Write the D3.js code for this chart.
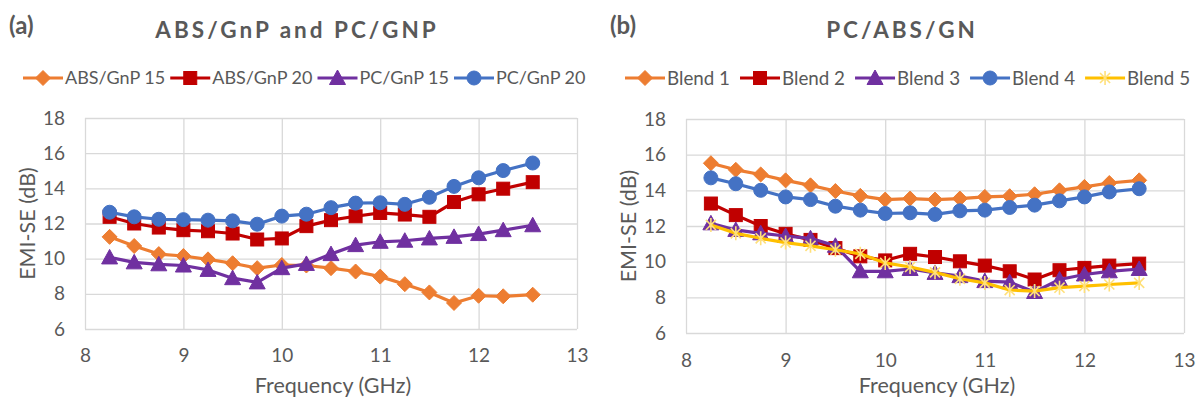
<!DOCTYPE html>
<html>
<head>
<meta charset="utf-8">
<script src="https://cdn.jsdelivr.net/npm/d3@7"></script>
<style>
  html, body { margin: 0; padding: 0; background: #fff; }
  svg { display: block; }
  text { font-family: Lato, "Open Sans", sans-serif; fill: #595959; }
</style>
</head>
<body>
<svg id="chart" width="1198" height="405"></svg>
<script>
// ---------- data ----------
const freqs = [8.25, 8.5, 8.75, 9, 9.25, 9.5, 9.75, 10, 10.25, 10.5, 10.75, 11, 11.25, 11.5, 11.75, 12, 12.25, 12.55];
const xTicks = [8, 9, 10, 11, 12, 13];
const yTicks = [6, 8, 10, 12, 14, 16, 18];

const absGnP15 = [11.24, 10.72, 10.26, 10.15, 9.96, 9.74, 9.46, 9.64, 9.61, 9.46, 9.27, 8.98, 8.55, 8.08, 7.48, 7.89, 7.86, 7.95];
const absGnP20 = [12.38, 12.0, 11.77, 11.62, 11.56, 11.43, 11.09, 11.15, 11.85, 12.19, 12.41, 12.6, 12.51, 12.38, 13.22, 13.66, 13.98, 14.35];
const pcGnP15  = [10.07, 9.79, 9.68, 9.61, 9.36, 8.89, 8.65, 9.46, 9.7, 10.26, 10.77, 10.96, 11.02, 11.15, 11.24, 11.4, 11.62, 11.9];
const pcGnP20  = [12.64, 12.38, 12.24, 12.22, 12.19, 12.15, 11.96, 12.42, 12.53, 12.9, 13.16, 13.18, 13.09, 13.49, 14.11, 14.6, 15.01, 15.44];

const blend1 = [15.52, 15.15, 14.89, 14.56, 14.28, 13.96, 13.69, 13.48, 13.54, 13.48, 13.54, 13.63, 13.67, 13.78, 14.0, 14.19, 14.41, 14.56];
const blend2 = [13.26, 12.61, 12.0, 11.56, 11.22, 10.76, 10.3, 10.07, 10.44, 10.26, 10.02, 9.78, 9.46, 9.0, 9.52, 9.65, 9.78, 9.89];
const blend3 = [12.15, 11.78, 11.59, 11.44, 11.31, 10.89, 9.46, 9.46, 9.59, 9.37, 9.19, 8.91, 8.85, 8.3, 9.0, 9.28, 9.46, 9.59];
const blend4 = [14.7, 14.37, 14.0, 13.63, 13.48, 13.11, 12.89, 12.7, 12.74, 12.65, 12.85, 12.89, 13.04, 13.17, 13.41, 13.63, 13.91, 14.09];
const blend5 = [12.06, 11.59, 11.31, 11.07, 10.89, 10.67, 10.44, 9.93, 9.7, 9.4, 9.04, 8.81, 8.41, 8.35, 8.54, 8.63, 8.72, 8.81];

const namesA = ["ABS/GnP 15", "ABS/GnP 20", "PC/GnP 15", "PC/GnP 20"];
const namesB = ["Blend 1", "Blend 2", "Blend 3", "Blend 4", "Blend 5"];

// ---------- styles ----------
const C = { orange: "#ED7D31", red: "#C00000", purple: "#7030A0", blue: "#4472C4", yellow: "#FFC000" };

const panels = [
  {
    tag: "(a)", title: "ABS/GnP and PC/GNP",
    tagX: 9, titleX: 297,
    plot: { x0: 85, x1: 577, y0: 118, y1: 329 },
    legendX: 23, legendFont: 18, legendGap: 5, tickDy: 16,
    yTitleX: 27,
    series: [
      { name: namesA[0], values: absGnP15, color: C.orange, marker: "diamond" },
      { name: namesA[1], values: absGnP20, color: C.red, marker: "square" },
      { name: namesA[2], values: pcGnP15, color: C.purple, marker: "triangle" },
      { name: namesA[3], values: pcGnP20, color: C.blue, marker: "circle" }
    ]
  },
  {
    tag: "(b)", title: "PC/ABS/GN",
    tagX: 610, titleX: 902,
    plot: { x0: 686, x1: 1184, y0: 119, y1: 333 },
    legendX: 625, legendFont: 18.8, legendGap: 10, tickDy: 17,
    yTitleX: 628,
    series: [
      { name: namesB[0], values: blend1, color: C.orange, marker: "diamond" },
      { name: namesB[1], values: blend2, color: C.red, marker: "square" },
      { name: namesB[2], values: blend3, color: C.purple, marker: "triangle" },
      { name: namesB[3], values: blend4, color: C.blue, marker: "circle" },
      { name: namesB[4], values: blend5, color: C.yellow, marker: "star" }
    ]
  }
];

const svg = d3.select("#chart");

function drawMarker(g, type, color, x, y) {
  if (type === "diamond") {
    g.append("path").attr("d", `M${x},${y-7.5}L${x+7.5},${y}L${x},${y+7.5}L${x-7.5},${y}Z`)
      .attr("fill", color).attr("stroke", color).attr("stroke-width", 1);
  } else if (type === "square") {
    g.append("rect").attr("x", x-6.5).attr("y", y-6.5).attr("width", 13).attr("height", 13)
      .attr("fill", color).attr("stroke", color).attr("stroke-width", 1);
  } else if (type === "triangle") {
    g.append("path").attr("d", `M${x},${y-8}L${x+8},${y+6.5}L${x-8},${y+6.5}Z`)
      .attr("fill", color).attr("stroke", color).attr("stroke-width", 1);
  } else if (type === "circle") {
    g.append("circle").attr("cx", x).attr("cy", y).attr("r", 7)
      .attr("fill", color).attr("stroke", color).attr("stroke-width", 1);
  } else if (type === "star") {
    const r = 7, d = r * 0.72;
    g.append("path")
      .attr("d", `M${x},${y-r}L${x},${y+r}M${x-d},${y-d}L${x+d},${y+d}M${x-d},${y+d}L${x+d},${y-d}`)
      .attr("stroke", "#FFE07A").attr("stroke-width", 1.6).attr("fill", "none");
  }
}

panels.forEach(p => {
  const x = d3.scaleLinear().domain([8, 13]).range([p.plot.x0, p.plot.x1]);
  const y = d3.scaleLinear().domain([6, 18]).range([p.plot.y1, p.plot.y0]);
  const g = svg.append("g");

  // tag and title
  g.append("text").attr("x", p.tagX).attr("y", 34).text(p.tag)
    .attr("font-size", 24).attr("font-weight", "bold").attr("fill", "#404040");
  g.append("text").attr("x", p.titleX).attr("y", 38).attr("text-anchor", "middle").text(p.title)
    .attr("font-size", 22.5).attr("font-weight", "bold").attr("letter-spacing", 3).attr("fill", "#595959");

  // gridlines
  g.append("g").attr("transform", `translate(0,${p.plot.y1})`)
    .call(d3.axisBottom(x).tickValues(xTicks).tickSize(-(p.plot.y1 - p.plot.y0)).tickFormat(""))
    .call(a => a.select(".domain").remove())
    .call(a => a.selectAll("line").attr("stroke", "#D9D9D9").attr("stroke-width", 1.3));
  g.append("g").attr("transform", `translate(${p.plot.x0},0)`)
    .call(d3.axisLeft(y).tickValues(yTicks).tickSize(-(p.plot.x1 - p.plot.x0)).tickFormat(""))
    .call(a => a.select(".domain").remove())
    .call(a => a.selectAll("line").attr("stroke", "#D9D9D9").attr("stroke-width", 1.3));

  // tick labels
  g.append("g").attr("transform", `translate(0,${p.plot.y1 + p.tickDy})`)
    .call(d3.axisBottom(x).tickValues(xTicks).tickSize(0).tickFormat(d3.format("d")))
    .call(a => a.select(".domain").remove())
    .call(a => a.selectAll("text").attr("font-size", 19).attr("fill", "#595959")
      .style("font-family", "Lato, sans-serif"));
  g.append("g").attr("transform", `translate(${p.plot.x0 - 17},0)`)
    .call(d3.axisLeft(y).tickValues(yTicks).tickSize(0).tickFormat(d3.format("d")))
    .call(a => a.select(".domain").remove())
    .call(a => a.selectAll("text").attr("font-size", 19).attr("fill", "#595959")
      .style("font-family", "Lato, sans-serif"));

  // axis titles
  g.append("text").attr("x", (p.plot.x0 + p.plot.x1) / 2 + 2).attr("y", 393)
    .attr("text-anchor", "middle").attr("font-size", 21.5).text("Frequency (GHz)");
  g.append("text").attr("transform", `translate(${p.yTitleX},${(p.plot.y0 + p.plot.y1) / 2}) rotate(-90)`)
    .attr("text-anchor", "middle").attr("dy", "0.35em").attr("font-size", 21.5).text("EMI-SE (dB)");

  // series
  const line = d3.line().x((d, i) => x(freqs[i])).y(d => y(d));
  p.series.forEach(s => {
    const sg = g.append("g");
    sg.append("path").datum(s.values).attr("d", line)
      .attr("fill", "none").attr("stroke", s.color).attr("stroke-width", 3.2)
      .attr("stroke-linejoin", "round").attr("stroke-linecap", "round");
    s.values.forEach((v, i) => drawMarker(sg, s.marker, s.color, x(freqs[i]), y(v)));
  });

  // legend
  const lg = g.append("g");
  let cx = p.legendX;
  const ly = 78;
  p.series.forEach(s => {
    lg.append("line").attr("x1", cx).attr("x2", cx + 40).attr("y1", ly).attr("y2", ly)
      .attr("stroke", s.color).attr("stroke-width", 3.2);
    drawMarker(lg, s.marker, s.color, cx + 20, ly);
    const t = lg.append("text").attr("x", cx + 42).attr("y", ly).attr("dy", "0.35em")
      .attr("font-size", p.legendFont).text(s.name);
    cx += 42 + t.node().getComputedTextLength() + p.legendGap;
  });
});
</script>
</body>
</html>
